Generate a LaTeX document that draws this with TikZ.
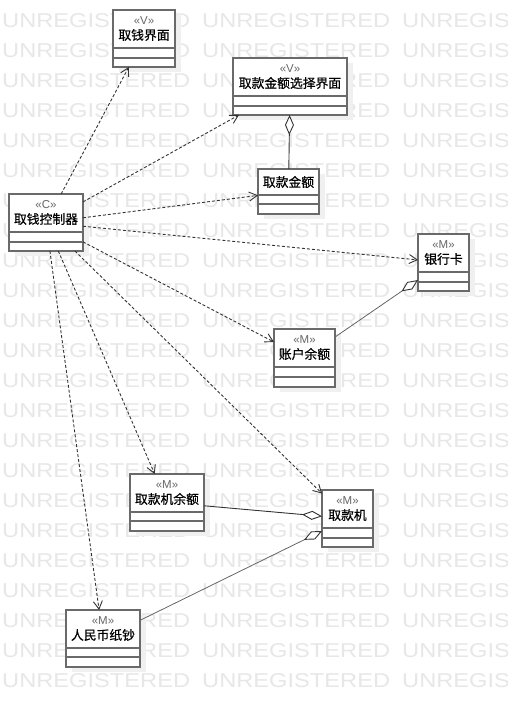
\documentclass[tikz,border=0pt]{standalone}
\usepackage{fontspec}
\setmainfont{Liberation Sans}
\newfontfamily\cjk[FakeBold=0.6]{Noto Sans CJK SC}
\usetikzlibrary{arrows.meta}
\definecolor{boxgray}{HTML}{6A6A6A}
\definecolor{linegray}{HTML}{333333}
\definecolor{shadowgray}{HTML}{F0F0F0}
\definecolor{wmgray}{HTML}{E7E7E7}
\newcommand\umlcls[9]{%
  \fill[shadowgray] ({#2+6},{#3+5}) rectangle ({#4+6},{#5+5});
  \node[umlbox, minimum width={(#4-#2)*1pt}, minimum height={(#5-#3)*1pt}] (#1) at (#2,#3) {};
  \draw[boxline] (#2,#6) -- (#4,#6) (#2,#7) -- (#4,#7);
  \node[stereo] (#1-s) at ({(#2+#4)/2},{#3+11}) {«#8»};
  \node[cname] (#1-n) at ({(#2+#4)/2},{#3+25}) {#9};}
\newcommand\umlplain[8]{%
  \fill[shadowgray] ({#2+6},{#3+5}) rectangle ({#4+6},{#5+5});
  \node[umlbox, minimum width={(#4-#2)*1pt}, minimum height={(#5-#3)*1pt}] (#1) at (#2,#3) {};
  \draw[boxline] (#2,#6) -- (#4,#6) (#2,#7) -- (#4,#7);
  \node[cname] (#1-n) at ({(#2+#4)/2},{(#3+#6)/2}) {#8};}
\begin{document}
\begin{tikzpicture}[x=1pt,y=-1pt,
  umlbox/.style={draw=boxgray, line width=1.4pt, fill=white, rectangle, inner sep=0pt, outer sep=0pt, anchor=north west},
  boxline/.style={draw=boxgray, line width=1.4pt},
  stereo/.style={font=\fontsize{11.5}{12}\selectfont, text=black!60, inner sep=0pt},
  cname/.style={font=\cjk\fontsize{12.8}{14}\selectfont, text=black, inner sep=0pt},
  wm/.style={font=\fontsize{20}{20}\selectfont, text=wmgray, inner sep=0pt, anchor=base west},
  dep/.style={draw=linegray, line width=0.9pt, dash pattern=on 3pt off 2pt,
    -{Straight Barb[length=8pt,width=9pt,line width=0.9pt]}},
  agg/.style={draw=linegray, line width=0.9pt,
    -{Diamond[length=20pt,width=9pt,fill=white,line width=0.9pt]}},
  aggthin/.style={draw=black!60, line width=0.8pt,
    -{Diamond[length=20pt,width=9pt,fill=white,line width=0.9pt,color=linegray]}}]
\useasboundingbox (0,0) rectangle (508,707);
\fill[white] (0,0) rectangle (508,707);
% watermark
\foreach \k in {0,...,22}{
  \foreach \xx in {2,202,402}{
    \node[wm] at (\xx,{27+30*\k}) {\scalebox{1.183}[1]{UNREGISTERED}};
  }
}
% classes
\umlcls{ui}{113}{10}{175}{67}{48}{58}{V}{取钱界面}
\umlcls{amtui}{233}{58}{347}{115}{96}{106}{V}{取款金额选择界面}
\umlplain{amt}{258}{169}{319}{214}{195}{204}{取款金额}
\umlcls{ctrl}{9}{194}{83}{251}{232}{242}{C}{取钱控制器}
\umlcls{card}{418}{234}{469}{291}{272}{282}{M}{银行卡}
\umlcls{bal}{274}{329}{335}{387}{367}{377}{M}{账户余额}
\umlcls{atmbal}{130}{474}{204}{531}{512}{521}{M}{取款机余额}
\umlcls{atm}{322}{490}{373}{547}{528}{538}{M}{取款机}
\umlcls{rmb}{66}{610}{140}{667}{648}{657}{M}{人民币纸钞}
% dependencies
\draw[dep] (ctrl) -- (ui);
\draw[dep] (ctrl) -- (amtui);
\draw[dep] (ctrl) -- (amt);
\draw[dep] (ctrl) -- (card);
\draw[dep] (ctrl) -- (bal);
\draw[dep] (ctrl) -- (atmbal);
\draw[dep] (ctrl) -- (atm);
\draw[dep] (ctrl) -- (rmb);
% aggregations
\draw[agg] (amt) -- (amtui);
\draw[aggthin] (bal) -- (card);
\draw[agg] (atmbal) -- (atm);
\draw[aggthin] (rmb) -- (atm);
\end{tikzpicture}
\end{document}
